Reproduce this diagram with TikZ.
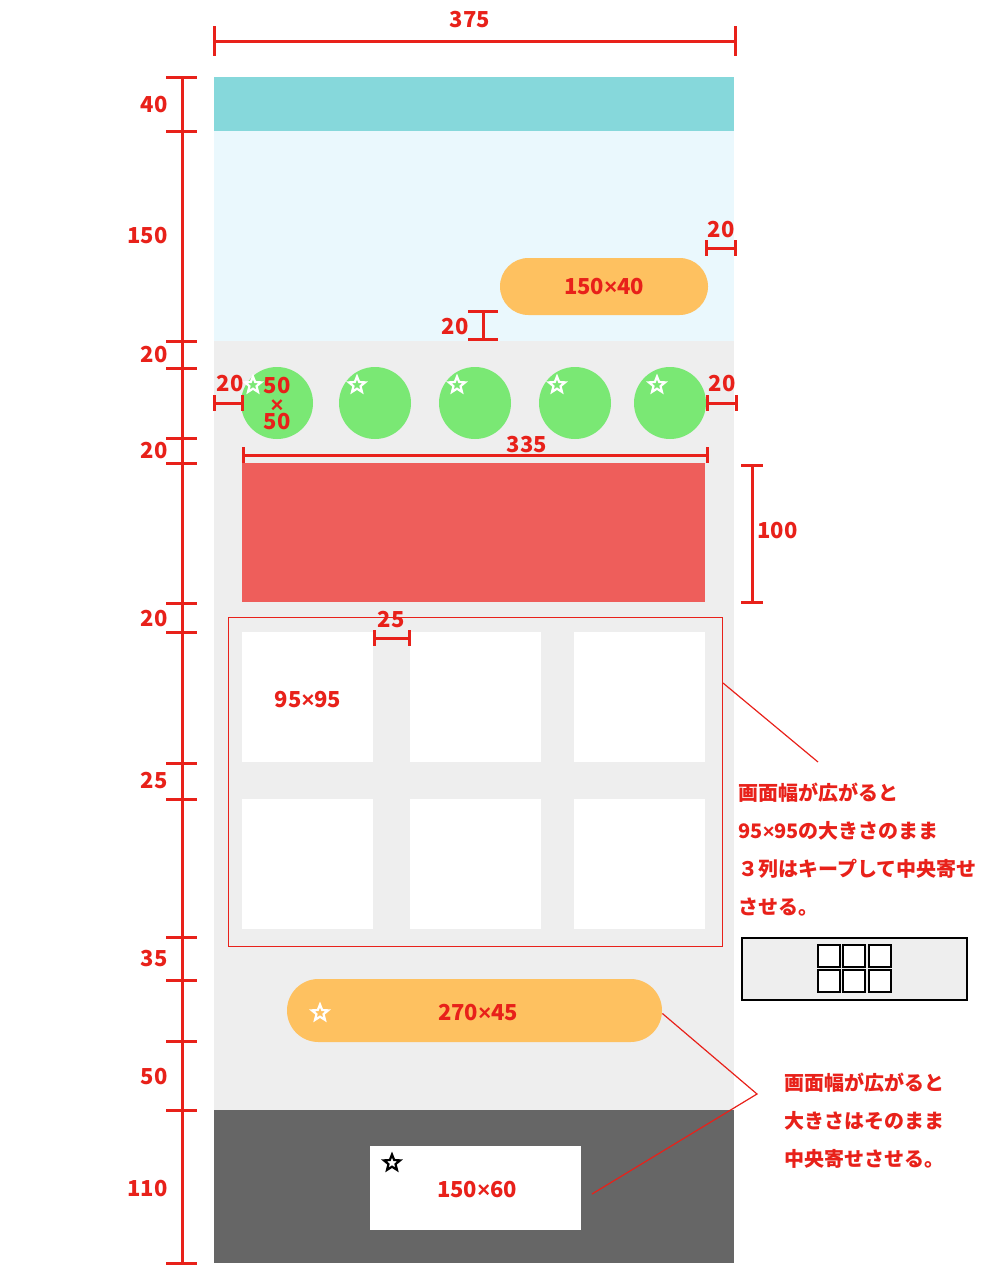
\documentclass[tikz,border=0pt]{standalone}
\usepackage{fontspec}
\setmainfont{Noto Sans CJK JP}
\newfontfamily\latinfont{Liberation Sans}
\usetikzlibrary{calc,shapes.geometric}
\definecolor{dimred}{HTML}{E8211A}
\definecolor{headteal}{HTML}{86D8DB}
\definecolor{herosky}{HTML}{EAF8FD}
\definecolor{bodygrey}{HTML}{EEEEEE}
\definecolor{footgrey}{HTML}{666666}
\definecolor{pillorange}{HTML}{FEC160}
\definecolor{iconGreen}{HTML}{7AE874}
\definecolor{bannerred}{HTML}{EE5E5B}
\def\by{{\latinfont\bfseries ×}}
% dimension bars: (y:x1:x2:half tick) and (x:y1:y2:half tick)
\def\hdimline(#1:#2:#3:#4){\draw[dimline] (#2,#1) -- (#3,#1); \draw[dimline] (#2,#1-#4) -- (#2,#1+#4); \draw[dimline] (#3,#1-#4) -- (#3,#1+#4);}
\def\vdimline(#1:#2:#3:#4){\draw[dimline] (#1,#2) -- (#1,#3); \draw[dimline] (#1-#4,#2) -- (#1+#4,#2); \draw[dimline] (#1-#4,#3) -- (#1+#4,#3);}
\begin{document}
\begin{tikzpicture}[x=0.5pt,y=-0.5pt,
	dimline/.style={draw=dimred,line width=1.5pt},
	dimlabel/.style={text=dimred,font=\bfseries\fontsize{11}{13}\selectfont,inner sep=0pt},
	notetext/.style={text=dimred,font=\bfseries\fontsize{10}{19}\selectfont,inner sep=0pt,align=left,anchor=north west},
	pill/.style={fill=pillorange,rounded corners=#1,inner sep=0pt},
	icon/.style={circle,fill=iconGreen,minimum size=36pt,inner sep=0pt},
	tile/.style={fill=white,minimum width=65.5pt,minimum height=65pt,inner sep=0pt},
	minitile/.style={draw=black,line width=0.6pt,fill=white,minimum size=11pt,inner sep=0pt},
	starmark/.style={star,star points=5,star point ratio=2.3,minimum size=8.5pt,inner sep=0pt,line width=1.1pt,line join=miter},
	callout/.style={draw=dimred,line width=0.6pt}]
	\useasboundingbox (0,0) rectangle (1000,1280);

	\fill[headteal] (214,77) rectangle (734,131);
	\fill[herosky] (214,131) rectangle (734,341);
	\fill[bodygrey] (214,341) rectangle (734,1110);
	\fill[footgrey] (214,1110) rectangle (734,1263);

	% left scale
	\draw[dimline] (182,77) -- (182,1263);
	\foreach \y in {77,131,341,368,438,463,603,632,763,799,937,980,1041,1110,1263}
		\draw[dimline] (166,\y) -- (197,\y);
	\foreach \y/\t in {105/40,236/150,355/20,451/20,619/20,781/25,959/35,1077/50,1188/110}
		\node[dimlabel,anchor=east] (lab\y) at (168,\y) {\t};

	% width
	\hdimline(41:214:735:15)
	\node[dimlabel] (wlab) at (470,20) {375};

	% hero button
	\node[pill=14.2pt,minimum width=104pt,minimum height=28.5pt] (herobtn) at (604,286.5) {};
	\node[dimlabel] (herolab) at (herobtn) {150\by40};
	\hdimline(248:706:735:8)
	\node[dimlabel] (herogapr) at (721,230) {20};
	\vdimline(483:311:339:15)
	\node[dimlabel] (herogapb) at (455,327) {20};

	% icons
	\foreach \cx/\sx [count=\i] in {277/253,375/357,475/457,575/557,670/657}{
		\node[icon] (icon\i) at (\cx,403) {};
		\node[starmark,draw=white] (star\i) at (\sx,385) {};
	}
	\node[dimlabel,text height=7.8pt,text depth=0pt] (iconlaba) at (277,386) {50};
	\node[dimlabel,text height=7.6pt,text depth=0pt] (iconlabx) at (277,405) {\by};
	\node[dimlabel,text height=7.8pt,text depth=0pt] (iconlabb) at (277,422) {50};
	\hdimline(403:214:242:8)
	\node[dimlabel] (icongapl) at (230,384) {20};
	\hdimline(403:707:736:8)
	\node[dimlabel] (icongapr) at (722,384) {20};
	\hdimline(455:243:707:8)
	\node[dimlabel] (bannerw) at (527,445) {335};

	% banner
	\node[fill=bannerred,minimum width=231.5pt,minimum height=69.5pt,inner sep=0pt] (banner) at (473.5,532.5) {};
	\vdimline(752:465:602:11)
	\node[dimlabel,anchor=west] (bannerh) at (757,531) {100};

	% grid
	\draw[dimred,line width=0.5pt] (228,617) rectangle (722,946);
	\foreach \cx [count=\i] in {307.5,475.5,639.5}{
		\node[tile] (tilea\i) at (\cx,697) {};
		\node[tile] (tileb\i) at (\cx,864) {};
	}
	\node[dimlabel] (tilelab) at (308,700) {95\by95};
	\hdimline(638:374:409:8)
	\node[dimlabel] (tilegap) at (391,620) {25};

	% note on grid
	\coordinate (gridpt) at (723,683);
	\coordinate (gridtip) at (818,762);
	\draw[callout] (gridpt) -- (gridtip);
	\node[notetext] (note1) at (738,783) {画面幅が広がると\\95\by95の大きさのまま\\３列はキープして中央寄せ\\させる。};
	\draw[line width=0.6pt,fill=bodygrey] (742,938) rectangle (967,1000);
	\foreach \cx [count=\i] in {829,854,880}{
		\node[minitile] (mini\i a) at (\cx,956) {};
		\node[minitile] (mini\i b) at (\cx,981) {};
	}

	% main button
	\node[pill=15.7pt,minimum width=187.5pt,minimum height=31.5pt] (mainbtn) at (474.5,1010.5) {};
	\node[dimlabel] (mainlab) at (478,1013) {270\by45};
	\node[starmark,draw=white] (mainstar) at (320,1013) {};

	% footer box
	\node[fill=white,minimum width=105.5pt,minimum height=42pt,inner sep=0pt] (footbox) at (475.5,1188) {};
	\node[dimlabel] (footlab) at (477,1189) {150\by60};
	\node[starmark,draw=black] (footstar) at (392,1163) {};

	% note on button and footer
	\coordinate (btntip) at (757,1094);
	\coordinate (footpt) at (592,1194);
	\draw[callout] (mainbtn.east) ++(0,3) -- (btntip) -- (footpt);
	\node[notetext] (note2) at (784,1073) {画面幅が広がると\\大きさはそのまま\\中央寄せさせる。};
\end{tikzpicture}
\end{document}
